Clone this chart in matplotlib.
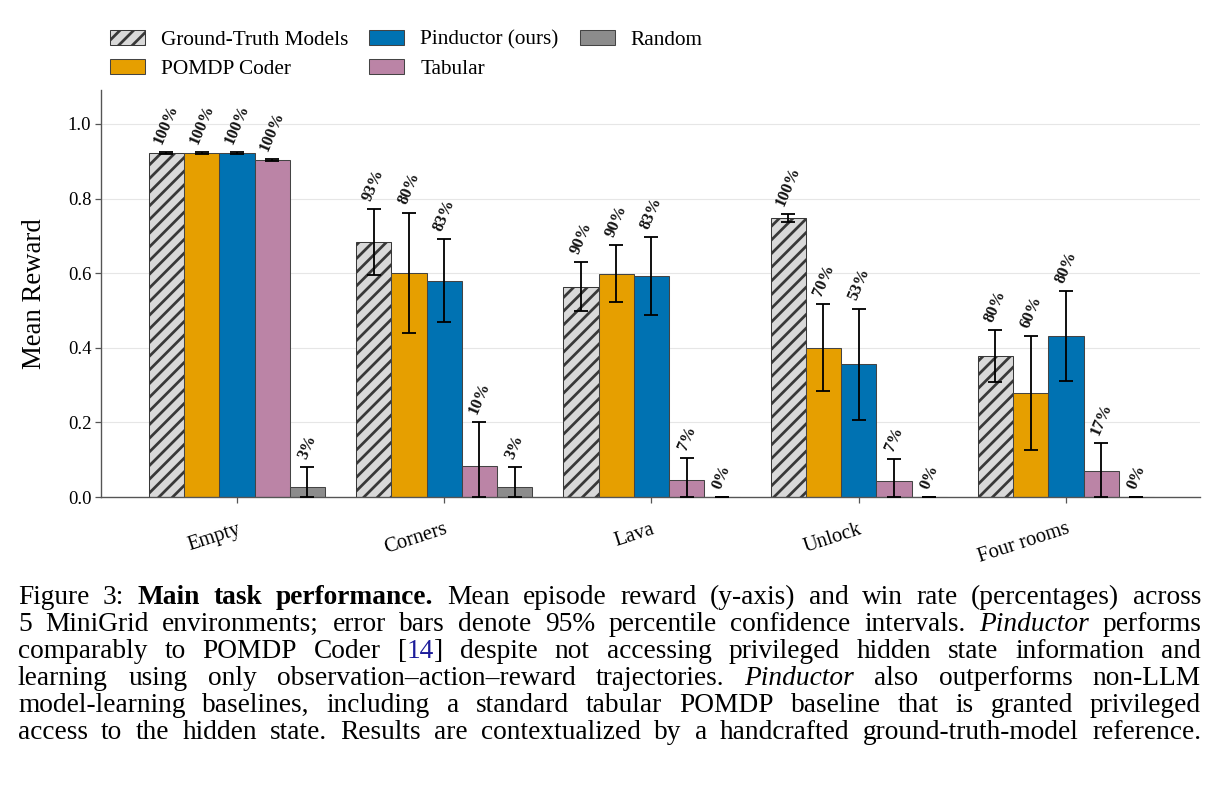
import matplotlib
matplotlib.use("Agg")
import matplotlib.pyplot as plt
from matplotlib.patches import Patch
import numpy as np

# figure is drawn at 82 dpi so that the '//' hatch spacing matches the paper figure
DPI = 82
W, H = 1222, 798

plt.rcParams['font.family'] = ['Liberation Serif', 'DejaVu Serif']
plt.rcParams['hatch.linewidth'] = 2.4

envs = ["Empty", "Corners", "Lava", "Unlock", "Four rooms"]
methods = ["Ground-Truth Models", "POMDP Coder", "Pinductor (ours)", "Tabular", "Random"]
colors = ["#d9d9d9", "#e69f00", "#0072b2", "#bb84a6", "#8c8c8c"]
edges = ["#383838", "#444444", "#444444", "#444444", "#444444"]
hatches = ["//", None, None, None, None]

# mean reward, 95% CI bounds and win rate (%) per environment
gt_mean = [0.922, 0.684, 0.564, 0.748, 0.378]
gt_lo = [0.920, 0.595, 0.499, 0.736, 0.307]
gt_hi = [0.924, 0.772, 0.629, 0.759, 0.448]
gt_win = [100, 93, 90, 100, 80]

coder_mean = [0.922, 0.600, 0.598, 0.400, 0.279]
coder_lo = [0.920, 0.440, 0.523, 0.283, 0.126]
coder_hi = [0.924, 0.762, 0.675, 0.517, 0.432]
coder_win = [100, 80, 90, 70, 60]

pind_mean = [0.922, 0.580, 0.592, 0.357, 0.432]
pind_lo = [0.920, 0.469, 0.489, 0.206, 0.311]
pind_hi = [0.924, 0.692, 0.696, 0.505, 0.552]
pind_win = [100, 83, 83, 53, 80]

tab_mean = [0.904, 0.083, 0.045, 0.044, 0.070]
tab_lo = [0.902, 0.0, 0.0, 0.0, 0.0]
tab_hi = [0.906, 0.201, 0.105, 0.102, 0.144]
tab_win = [100, 10, 7, 7, 17]

rand_mean = [0.028, 0.027, 0.0, 0.0, 0.0]
rand_lo = [0.0, 0.0, 0.0, 0.0, 0.0]
rand_hi = [0.080, 0.080, 0.0, 0.0, 0.0]
rand_win = [3, 3, 0, 0, 0]

means = [gt_mean, coder_mean, pind_mean, tab_mean, rand_mean]
los = [gt_lo, coder_lo, pind_lo, tab_lo, rand_lo]
his = [gt_hi, coder_hi, pind_hi, tab_hi, rand_hi]
wins = [gt_win, coder_win, pind_win, tab_win, rand_win]

# caption segments: (text, style)  n=normal b=bold i=italic l=link
caption = [
    [("Figure 3: ", "n"), ("Main task performance.", "b"),
     (" Mean episode reward (y-axis) and win rate (percentages) across", "n")],
    [("5 MiniGrid environments; error bars denote 95% percentile confidence intervals. ", "n"),
     ("Pinductor", "i"), (" performs", "n")],
    [("comparably to POMDP Coder [", "n"), ("14", "l"),
     ("] despite not accessing privileged hidden state information and", "n")],
    [("learning using only observation\u2013action\u2013reward trajectories. ", "n"),
     ("Pinductor", "i"), (" also outperforms non-LLM", "n")],
    [("model-learning baselines, including a standard tabular POMDP baseline that is granted privileged", "n")],
    [("access to the hidden state. Results are contextualized by a handcrafted ground-truth-model reference.", "n")],
]

fig = plt.figure(figsize=(W / DPI, H / DPI), dpi=DPI)
ax = fig.add_axes([101 / W, 1 - 497 / H, (1200 - 101) / W, (497 - 90) / H])

x = np.arange(len(envs))
width = 0.17
for i, m in enumerate(methods):
    xs = x + (i - 2) * width
    mean = np.array(means[i])
    ax.bar(xs, mean, width, color=colors[i], edgecolor=edges[i], linewidth=0.9,
           hatch=hatches[i], zorder=2, label=m)
    yerr = [mean - np.array(los[i]), np.array(his[i]) - mean]
    ax.errorbar(xs, mean, yerr=yerr, fmt="none", ecolor="black", elinewidth=1.6,
                capsize=6, capthick=1.6, zorder=3)
    for xi, top, w in zip(xs, his[i], wins[i]):
        ax.annotate(f"{w}%", (xi, top), xytext=(0, 5), textcoords="offset points",
                    rotation=67, ha="center", va="bottom", fontsize=14.5,
                    fontweight="bold", color="#111111", zorder=4)

ax.set_xlim(-0.656, 4.647)
ax.set_ylim(0, 1.091)
ax.set_yticks(np.arange(0, 1.01, 0.2))
ax.set_yticklabels([f"{v:.1f}" for v in np.arange(0, 1.01, 0.2)])
ax.set_xticks(x)
ax.set_xticklabels(envs, rotation=18, ha="right", va="top", rotation_mode="anchor")
ax.tick_params(axis="both", color="#555555", length=5, width=1.1)
ax.tick_params(axis="y", labelsize=16.5)
ax.tick_params(axis="x", labelsize=18, pad=15)
ax.set_ylabel("Mean Reward", fontsize=23.5, labelpad=18)
ax.grid(axis="y", color="#e6e6e6", linewidth=1.0, zorder=0)
ax.set_axisbelow(True)
for s in ["top", "right"]:
    ax.spines[s].set_visible(False)
for s in ["left", "bottom"]:
    ax.spines[s].set_color("#555555")
    ax.spines[s].set_linewidth(1.2)

handles = [Patch(facecolor=colors[i], edgecolor=edges[i], linewidth=0.9, hatch=hatches[i])
           for i in range(len(methods))]
fig.legend(handles, methods, loc="upper left", bbox_to_anchor=(110 / W, 1 - 30 / H),
           ncol=3, frameon=False, fontsize=18.7, handlelength=1.64, handleheight=0.7,
           handletextpad=0.75, columnspacing=0.99, labelspacing=0.41, borderpad=0,
           borderaxespad=0)

# justified caption, word by word
styles = {"n": dict(), "b": dict(fontweight="bold"), "i": dict(fontstyle="italic"),
          "l": dict(color="#1c1c9a")}
renderer = fig.canvas.get_renderer()
x0, x1 = 18, 1201
base = 604
for li, segs in enumerate(caption):
    words = []
    new_word = True
    for text, st in segs:
        parts = text.split(" ")
        for k, part in enumerate(parts):
            if k > 0:
                new_word = True
            if part == "":
                continue
            if new_word or not words:
                words.append([(part, st)])
            else:
                words[-1].append((part, st))
            new_word = False
    y = 1 - (base + 27 * li) / H
    objs = []
    total = 0
    for wd in words:
        pieces = []
        for part, st in wd:
            t = fig.text(0, y, part, fontsize=24, va="baseline", ha="left",
                         color=styles[st].get("color", "black"),
                         fontweight=styles[st].get("fontweight", "normal"),
                         fontstyle=styles[st].get("fontstyle", "normal"))
            wpx = t.get_window_extent(renderer).width
            pieces.append((t, wpx))
            total += wpx
        objs.append(pieces)
    gap = (x1 - x0 - total) / max(len(objs) - 1, 1)
    cx = x0
    for pieces in objs:
        for t, wpx in pieces:
            t.set_x(cx / W)
            cx += wpx
        cx += gap

fig.savefig("out.png", dpi=DPI)
